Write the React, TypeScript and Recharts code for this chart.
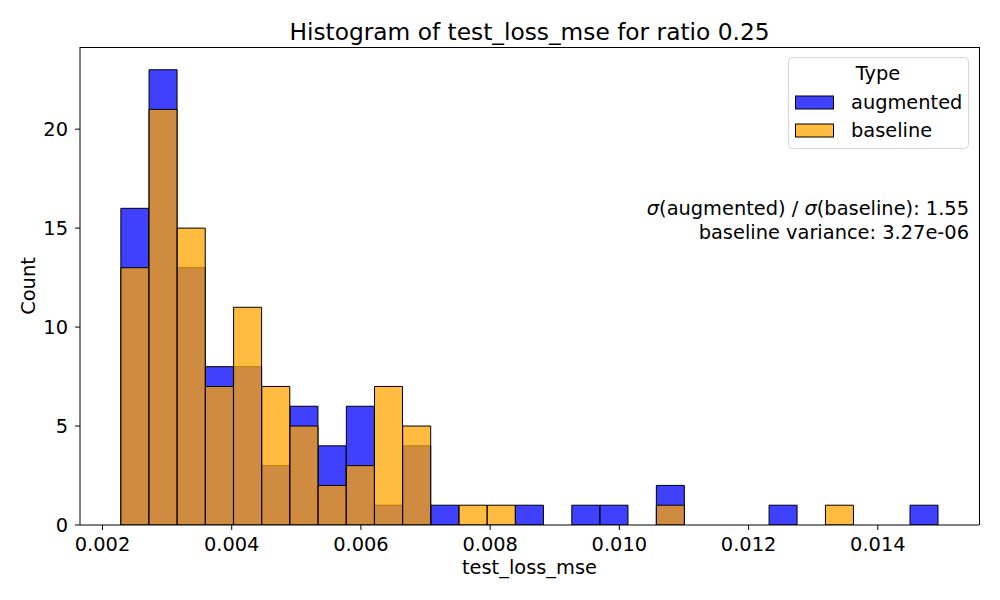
import React from "react";
import { ComposedChart, Bar, XAxis, YAxis, Label, Customized } from "recharts";

// histogram bins (equal width), counts
const binStart = 0.0022845;
const binWidth = 0.0004362;
const augmentedCounts = [16, 23, 13, 8, 8, 3, 6, 4, 6, 1, 4, 1, 0, 0, 1, 0, 1, 1, 0, 2, 0, 0, 0, 1, 0, 0, 0, 0, 1];
const baselineCounts = [13, 21, 15, 7, 11, 7, 5, 2, 3, 7, 5, 0, 1, 1, 0, 0, 0, 0, 0, 1, 0, 0, 0, 0, 0, 1, 0, 0, 0];

const xTicks = [0.002, 0.004, 0.006, 0.008, 0.01, 0.012, 0.014];
const yTicks = [0, 5, 10, 15, 20];
const xDomain = [0.001652, 0.015566];
const yDomain = [0, 24.15];

const seriesKeys = ["augmented", "baseline"];
const seriesColors = ["#0000ff", "#ffa500"];

const data = augmentedCounts.map((a, i) => ({
  x: binStart + binWidth * (i + 0.5),
  augmented: a,
  baseline: baselineCounts[i],
}));

const FONT = "DejaVu Sans, sans-serif";
const FS = 19.4;

const Overlay = () => (
  <g fontFamily={FONT} fill="#000">
    {/* top and right spines */}
    <line x1={80} y1={47.5} x2={979} y2={47.5} stroke="#000" />
    <line x1={979.5} y1={47} x2={979.5} y2={525} stroke="#000" />
    <text x={529.5} y={40} textAnchor="middle" fontSize={23.3}>
      Histogram of test_loss_mse for ratio 0.25
    </text>
    <text x={969} y={215} textAnchor="end" fontSize={FS}>
      <tspan fontStyle="italic">σ</tspan>(augmented) / <tspan fontStyle="italic">σ</tspan>(baseline): 1.55
    </text>
    <text x={969} y={239} textAnchor="end" fontSize={FS}>
      baseline variance: 3.27e-06
    </text>
    {/* legend */}
    <rect x={788.5} y={57.5} width={180} height={91} rx={4} fill="#fff" fillOpacity={0.8} stroke="#d6d6d6" />
    <text x={878} y={80} textAnchor="middle" fontSize={FS}>
      Type
    </text>
    {seriesKeys.map((k, i) => (
      <g key={k}>
        <rect
          x={795.5}
          y={96 + i * 28}
          width={38}
          height={13}
          fill={seriesColors[i]}
          fillOpacity={0.75}
          stroke="#000"
        />
        <text x={851} y={109 + i * 28} fontSize={FS}>
          {k}
        </text>
      </g>
    ))}
  </g>
);

export default function App() {
  return (
    <div style={{ width: 1000, height: 600 }}>
      <style>{"body{margin:0}"}</style>
      <ComposedChart
        width={1000}
        height={600}
        data={data}
        margin={{ top: 47, right: 21, bottom: 0, left: 0 }}
        barCategoryGap={0}
        barGap={0}
      >
        <XAxis
          xAxisId="a"
          type="number"
          dataKey="x"
          domain={xDomain}
          allowDataOverflow
          ticks={xTicks}
          tickFormatter={(v) => v.toFixed(3)}
          height={75}
          tickSize={5}
          tickMargin={7}
          stroke="#000"
          tick={{ fill: "#000", fontSize: FS, fontFamily: FONT }}
        >
          <Label
            value="test_loss_mse"
            position="insideBottom"
            offset={26}
            style={{ fill: "#000", fontSize: FS, fontFamily: FONT }}
          />
        </XAxis>
        <XAxis
          xAxisId="b"
          type="number"
          dataKey="x"
          domain={xDomain}
          allowDataOverflow
          hide
        />
        <YAxis
          yAxisId="l"
          type="number"
          domain={yDomain}
          allowDataOverflow
          ticks={yTicks}
          width={80}
          tickSize={5}
          tickMargin={7}
          stroke="#000"
          tick={{ fill: "#000", fontSize: FS, fontFamily: FONT }}
        >
          <Label
            content={() => (
              <text
                x={28}
                y={286}
                transform="rotate(-90 28 286)"
                textAnchor="middle"
                dominantBaseline="central"
                fontSize={FS}
                fontFamily={FONT}
                fill="#000"
              >
                Count
              </text>
            )}
          />
        </YAxis>
        <Bar
          xAxisId="a"
          yAxisId="l"
          dataKey="augmented"
          fill={seriesColors[0]}
          fillOpacity={0.75}
          stroke="#000"
          strokeWidth={1}
          isAnimationActive={false}
        />
        <Bar
          xAxisId="b"
          yAxisId="l"
          dataKey="baseline"
          fill={seriesColors[1]}
          fillOpacity={0.75}
          stroke="#000"
          strokeWidth={1}
          isAnimationActive={false}
        />
        <Customized component={Overlay} />
      </ComposedChart>
    </div>
  );
}
